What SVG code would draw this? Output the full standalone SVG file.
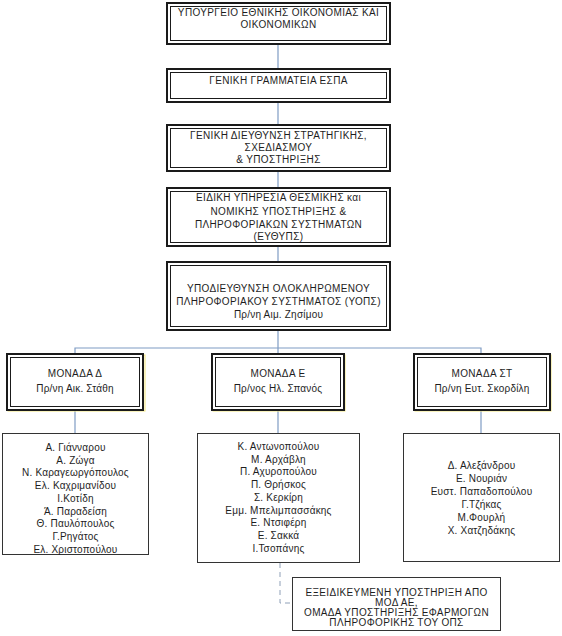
<svg xmlns="http://www.w3.org/2000/svg" width="562" height="636" viewBox="0 0 562 636">
<style>
.bg{fill:#ffffff}
.outer{fill:#ffffff;stroke:#1a1a1a;stroke-width:2}
.inner{fill:none;stroke:#1a1a1a;stroke-width:1}
.single{fill:#ffffff;stroke:#333333;stroke-width:1}
.shadow{fill:none;stroke:#f2e57a;stroke-width:1}
.conn{fill:none;stroke:#7f9cc4;stroke-width:1.2}
.dash{fill:none;stroke:#8fa0b8;stroke-width:1;stroke-dasharray:5,4}
text{font-family:"Liberation Sans",Arial,sans-serif;font-size:10px;fill:#1e1e1e;text-anchor:middle;letter-spacing:0.2px}
.caps{letter-spacing:0.35px}
</style>
<rect class="bg" x="0" y="0" width="562" height="636"/>
<g id="connectors">
<line class="conn" x1="278" y1="45" x2="278" y2="69"/>
<line class="conn" x1="278" y1="102" x2="278" y2="125"/>
<line class="conn" x1="278" y1="171" x2="278" y2="188"/>
<line class="conn" x1="278" y1="246" x2="278" y2="262"/>
<line class="conn" x1="278" y1="330" x2="278" y2="354"/>
<polyline class="conn" points="75,354 75,348 481,348 481,354"/>
<line class="conn" x1="75" y1="410" x2="75" y2="433"/>
<line class="conn" x1="278" y1="410" x2="278" y2="433"/>
<line class="conn" x1="481" y1="410" x2="481" y2="433"/>
<polyline class="dash" points="280,563 280,603 292,603"/>
</g>
<g id="ministry">
<rect class="outer" x="167" y="3" width="223" height="41"/>
<rect class="inner" x="170.5" y="6.5" width="216" height="34"/>
<text class="caps" x="278.5" y="16">ΥΠΟΥΡΓΕΙΟ ΕΘΝΙΚΗΣ ΟΙΚΟΝΟΜΙΑΣ ΚΑΙ</text>
<text class="caps" x="278.5" y="28">ΟΙΚΟΝΟΜΙΚΩΝ</text>
</g>
<g id="gen-secretariat">
<rect class="outer" x="167" y="69" width="223" height="33"/>
<rect class="inner" x="170.5" y="72.5" width="216" height="26"/>
<text class="caps" x="278.5" y="84">ΓΕΝΙΚΗ ΓΡΑΜΜΑΤΕΙΑ ΕΣΠΑ</text>
</g>
<g id="gen-directorate">
<rect class="outer" x="167" y="125" width="223" height="46"/>
<rect class="inner" x="170.5" y="128.5" width="216" height="39"/>
<text class="caps" x="278.5" y="139">ΓΕΝΙΚΗ ΔΙΕΥΘΥΝΣΗ ΣΤΡΑΤΗΓΙΚΗΣ,</text>
<text class="caps" x="278.5" y="151">ΣΧΕΔΙΑΣΜΟΥ</text>
<text class="caps" x="278.5" y="163">&amp; ΥΠΟΣΤΗΡΙΞΗΣ</text>
</g>
<g id="eythyps">
<rect class="outer" x="167" y="188" width="223" height="58"/>
<rect class="inner" x="170.5" y="191.5" width="216" height="51"/>
<text class="caps" x="278.5" y="201">ΕΙΔΙΚΗ ΥΠΗΡΕΣΙΑ ΘΕΣΜΙΚΗΣ και</text>
<text class="caps" x="278.5" y="215">ΝΟΜΙΚΗΣ ΥΠΟΣΤΗΡΙΞΗΣ &amp;</text>
<text class="caps" x="278.5" y="228">ΠΛΗΡΟΦΟΡΙΑΚΩΝ ΣΥΣΤΗΜΑΤΩΝ</text>
<text class="caps" x="278.5" y="240">(ΕΥΘΥΠΣ)</text>
</g>
<g id="yops">
<rect class="outer" x="167" y="262" width="223" height="68"/>
<rect class="inner" x="170.5" y="265.5" width="216" height="61"/>
<text class="caps" x="278.5" y="292">ΥΠΟΔΙΕΥΘΥΝΣΗ ΟΛΟΚΛΗΡΩΜΕΝΟΥ</text>
<text class="caps" x="278.5" y="305">ΠΛΗΡΟΦΟΡΙΑΚΟΥ ΣΥΣΤΗΜΑΤΟΣ (ΥΟΠΣ)</text>
<text x="278.5" y="318">Πρ/νη Αιμ. Ζησίμου</text>
</g>
<g id="unit-d">
<rect class="shadow" x="8" y="355" width="137" height="56"/>
<rect class="outer" x="7" y="354" width="136" height="56"/>
<rect class="inner" x="10.5" y="357.5" width="129" height="49"/>
<text class="caps" x="75" y="377">ΜΟΝΑΔΑ Δ</text>
<text x="75" y="392">Πρ/νη Αικ. Στάθη</text>
</g>
<g id="unit-e">
<rect class="shadow" x="213" y="355" width="132" height="56"/>
<rect class="outer" x="212" y="354" width="132" height="56"/>
<rect class="inner" x="215.5" y="357.5" width="125" height="49"/>
<text class="caps" x="278" y="377">ΜΟΝΑΔΑ Ε</text>
<text x="278" y="392">Πρ/νος Ηλ. Σπανός</text>
</g>
<g id="unit-st">
<rect class="shadow" x="415" y="355" width="136" height="56"/>
<rect class="outer" x="414" y="354" width="136" height="56"/>
<rect class="inner" x="417.5" y="357.5" width="129" height="49"/>
<text class="caps" x="482" y="377">ΜΟΝΑΔΑ ΣΤ</text>
<text x="482" y="392">Πρ/νη Ευτ. Σκορδίλη</text>
</g>
<g id="list-d">
<rect class="single" x="2.5" y="433.5" width="146" height="121"/>
<text x="75.5" y="451">Α. Γιάνναρου</text>
<text x="75.5" y="463.7">Α. Ζώγα</text>
<text x="75.5" y="476.4">Ν. Καραγεωργόπουλος</text>
<text x="75.5" y="489.1">Ελ. Καχριμανίδου</text>
<text x="75.5" y="501.8">Ι.Κοτίδη</text>
<text x="75.5" y="514.5">Ά. Παραδείση</text>
<text x="75.5" y="527.2">Θ. Παυλόπουλος</text>
<text x="75.5" y="539.9">Γ.Ρηγάτος</text>
<text x="75.5" y="552.6">Ελ. Χριστοπούλου</text>
</g>
<g id="list-e">
<rect class="single" x="197.5" y="433.5" width="162" height="129"/>
<text x="278.5" y="450">Κ. Αντωνοπούλου</text>
<text x="278.5" y="462.7">Μ. Αρχάβλη</text>
<text x="278.5" y="475.4">Π. Αχυροπούλου</text>
<text x="278.5" y="488.1">Π. Θρήσκος</text>
<text x="278.5" y="500.8">Σ. Κερκίρη</text>
<text x="278.5" y="513.5">Εμμ. Μπελιμπασσάκης</text>
<text x="278.5" y="526.2">Ε. Ντσιφέρη</text>
<text x="278.5" y="538.9">Ε. Σακκά</text>
<text x="278.5" y="551.6">Ι.Τσοπάνης</text>
</g>
<g id="list-st">
<rect class="single" x="403.5" y="433.5" width="156" height="128"/>
<text x="481.5" y="469">Δ. Αλεξάνδρου</text>
<text x="481.5" y="482">Ε. Νουριάν</text>
<text x="481.5" y="495">Ευστ. Παπαδοπούλου</text>
<text x="481.5" y="508">Γ.Τζήκας</text>
<text x="481.5" y="521">Μ.Φουρλή</text>
<text x="481.5" y="534">Χ. Χατζηδάκης</text>
</g>
<g id="support-team">
<rect class="single" x="292.5" y="577.5" width="208" height="53"/>
<text class="caps" x="396.5" y="596">ΕΞΕΙΔΙΚΕΥΜΕΝΗ ΥΠΟΣΤΗΡΙΞΗ ΑΠΟ</text>
<text class="caps" x="396.5" y="606">ΜΟΔ ΑΕ,</text>
<text class="caps" x="396.5" y="616">ΟΜΑΔΑ ΥΠΟΣΤΗΡΙΞΗΣ ΕΦΑΡΜΟΓΩΝ</text>
<text class="caps" x="396.5" y="626">ΠΛΗΡΟΦΟΡΙΚΗΣ ΤΟΥ ΟΠΣ</text>
</g>
</svg>
